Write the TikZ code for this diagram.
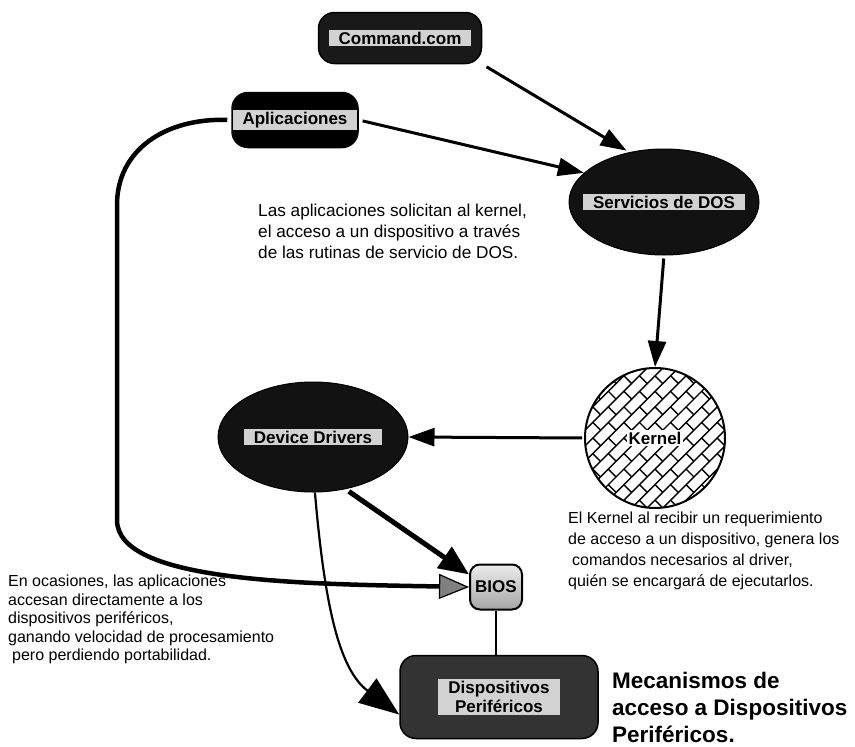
\documentclass[tikz,border=0pt]{standalone}
\usepackage{fontspec}
\setmainfont{Liberation Sans}
\usetikzlibrary{arrows.meta,shapes.geometric}
\begin{document}
\begin{tikzpicture}[x=1pt,y=-1pt,
  darkbox/.style={draw=black, fill=black!90, line width=1.5pt, rounded corners=16pt},
  darkoval/.style={ellipse, draw=black, fill=black!93, line width=1pt},
  tag/.style={fill=gray!35, font=\bfseries\fontsize{17}{19}\selectfont, inner xsep=10pt, inner ysep=2pt, align=center},
  note/.style={anchor=north west, align=left, inner sep=0pt},
  link/.style={line width=3pt, -{Triangle[length=26pt,width=18pt]}},
  heavydark/.style={line width=5pt, -{Triangle[length=30pt,width=25pt]}},
  heavygray/.style={line width=4.5pt, -{Triangle[length=30pt,width=25pt,fill=gray,line width=1.2pt]}},
]
\useasboundingbox (0,0) rectangle (855,747);

% program layers
\node[darkbox, minimum width=163pt, minimum height=51pt] (cmd) at (400,38) {};
\node[tag] (cmdl) at (cmd) {Command.com};
\node[darkbox, fill=black, minimum width=126pt, minimum height=55pt] (apl) at (295,120) {};
\node[tag] (apll) at (apl) {Aplicaciones};
\node[darkoval, minimum width=190pt, minimum height=106pt] (srv) at (664,202) {};
\node[tag] (srvl) at (srv) {Servicios de DOS};
\node[darkoval, minimum width=190pt, minimum height=110pt] (dd) at (313,437) {};
\node[tag] (ddl) at (dd) {Device Drivers};

% kernel with brick hatching
\node[circle, draw, line width=2pt, minimum size=140pt] (kern) at (655,438) {};
\begin{scope}
  \clip (kern.center) circle (70);
  \begin{scope}[shift={(kern.center)}, rotate=45, line width=1.4pt]
    \foreach \k in {-8,...,8} {
      \draw (-90,\k*11) -- (90,\k*11);
      \foreach \j in {-5,...,5} {
        \pgfmathsetmacro\xx{\j*22+mod(\k+20,2)*11}
        \draw (\xx,\k*11) -- (\xx,\k*11+11);
      }
    }
  \end{scope}
\end{scope}
\node[fill=white, font=\bfseries\fontsize{17}{19}\selectfont, inner sep=2pt] (kernl) at (kern) {Kernel};

% BIOS and peripheral devices
\node[draw, line width=2pt, rounded corners=10pt, top color=gray!15, bottom color=gray!70,
      minimum width=52pt, minimum height=45pt, font=\bfseries\fontsize{17}{19}\selectfont] (bios) at (496,587) {BIOS};
\node[darkbox, fill=black!80, minimum width=198pt, minimum height=83pt] (disp) at (499,697) {};
\node[tag] (displ) at (disp) {Dispositivos\\Periféricos};

% notes
\node[note, font=\fontsize{17.2}{21}\selectfont] (t1) at (258,204) {Las aplicaciones solicitan al kernel,\\el acceso a un dispositivo a través\\de las rutinas de servicio de DOS.};
\node[note, font=\fontsize{16}{21}\selectfont] (t2) at (568,512) {El Kernel al recibir un requerimiento\\de acceso a un dispositivo, genera los\\\hspace{4pt}comandos necesarios al driver,\\quién se encargará de ejecutarlos.};
\node[note, font=\fontsize{16}{18.5}\selectfont] (t3) at (8,575) {En ocasiones, las aplicaciones\\accesan directamente a los\\dispositivos periféricos,\\ganando velocidad de procesamiento\\\hspace{4pt}pero perdiendo portabilidad.};
\node[note, font=\bfseries\fontsize{22.5}{27}\selectfont] (title) at (612,672) {Mecanismos de\\acceso a Dispositivos\\Periféricos.};

% connectors
\draw[link, shorten <=5pt, shorten >=3pt] (cmd.south east) -- (srv.125);
\draw[link, shorten <=4pt] (apl.east) -- (srv.160);
\draw[link, shorten <=3pt] (srv.south) -- (kern.north);
\draw[link, shorten <=2pt] (kern.west) -- (dd.east);
\draw[heavydark, shorten <=4pt] (dd.-58) -- (bios.155);
\draw[heavygray, shorten <=4pt] (apl.west) .. controls (165,118) and (117,150) .. (117,205) -- (117,520)
      .. controls (117,582) and (300,584) .. (bios.west);
\draw[line width=2.2pt, -{Triangle[length=40pt,width=30pt]}] (dd.-88) .. controls (325,610) and (340,670) .. (disp.190);
\draw[line width=1.5pt] (bios.south) -- (bios.south |- disp.north);
\end{tikzpicture}
\end{document}
